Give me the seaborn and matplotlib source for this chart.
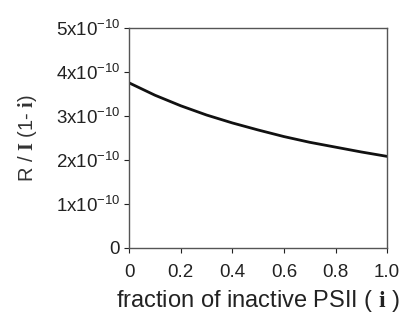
import numpy as np
import pandas as pd
import matplotlib
matplotlib.use('Agg')
import matplotlib.pyplot as plt
import seaborn as sns

# values
fraction_inactive = [0.0, 0.1, 0.2, 0.3, 0.4, 0.5, 0.6, 0.7, 0.8, 0.9, 1.0]
rate_per_active = [3.75e-10, 3.47e-10, 3.23e-10, 3.02e-10, 2.84e-10, 2.68e-10,
                   2.53e-10, 2.40e-10, 2.29e-10, 2.18e-10, 2.08e-10]
x_ticks = [0, 0.2, 0.4, 0.6, 0.8, 1.0]
x_tick_labels = ['0', '0.2', '0.4', '0.6', '0.8', '1.0']
y_ticks = [0, 1e-10, 2e-10, 3e-10, 4e-10, 5e-10]
y_tick_labels = ['0', r'1x10$^{-10}$', r'2x10$^{-10}$', r'3x10$^{-10}$',
                 r'4x10$^{-10}$', r'5x10$^{-10}$']

sns.set_style('ticks')
plt.rcParams['font.family'] = ['Liberation Sans', 'DejaVu Sans']
plt.rcParams['mathtext.fontset'] = 'custom'
plt.rcParams['mathtext.rm'] = 'Liberation Sans'
plt.rcParams['mathtext.it'] = 'Liberation Sans:italic'
plt.rcParams['mathtext.bf'] = 'Liberation Serif:bold'

df = pd.DataFrame({'i': fraction_inactive, 'R': rate_per_active})

fig = plt.figure(figsize=(4.14, 3.17), dpi=100)
ax = fig.add_axes([0.312, 0.218, 0.623, 0.694])
sns.lineplot(data=df, x='i', y='R', ax=ax, color='#111111', linewidth=2.0)

ax.set_xlim(0, 1.0)
ax.set_ylim(0, 5e-10)
ax.set_xticks(x_ticks)
ax.set_xticklabels(x_tick_labels)
ax.set_yticks(y_ticks)
ax.set_yticklabels(y_tick_labels)
ax.tick_params(axis='both', labelsize=13.5, colors='#222222', length=3.5, width=0.8)
ax.tick_params(axis='x', pad=8)
ax.tick_params(axis='y', pad=3)
for side in ['top', 'right', 'left', 'bottom']:
    ax.spines[side].set_visible(True)
    ax.spines[side].set_color('#555555')
    ax.spines[side].set_linewidth(1.0)
ax.set_xlabel(r'fraction of inactive PSII ( $\mathbf{i}$ )', fontsize=17,
              color='#222222', labelpad=5)
ax.set_ylabel(r'R / $\mathbf{I}$ (1- $\mathbf{i}$)', fontsize=14.5,
              color='#333333', labelpad=12)

fig.savefig('out.png', dpi=100)
